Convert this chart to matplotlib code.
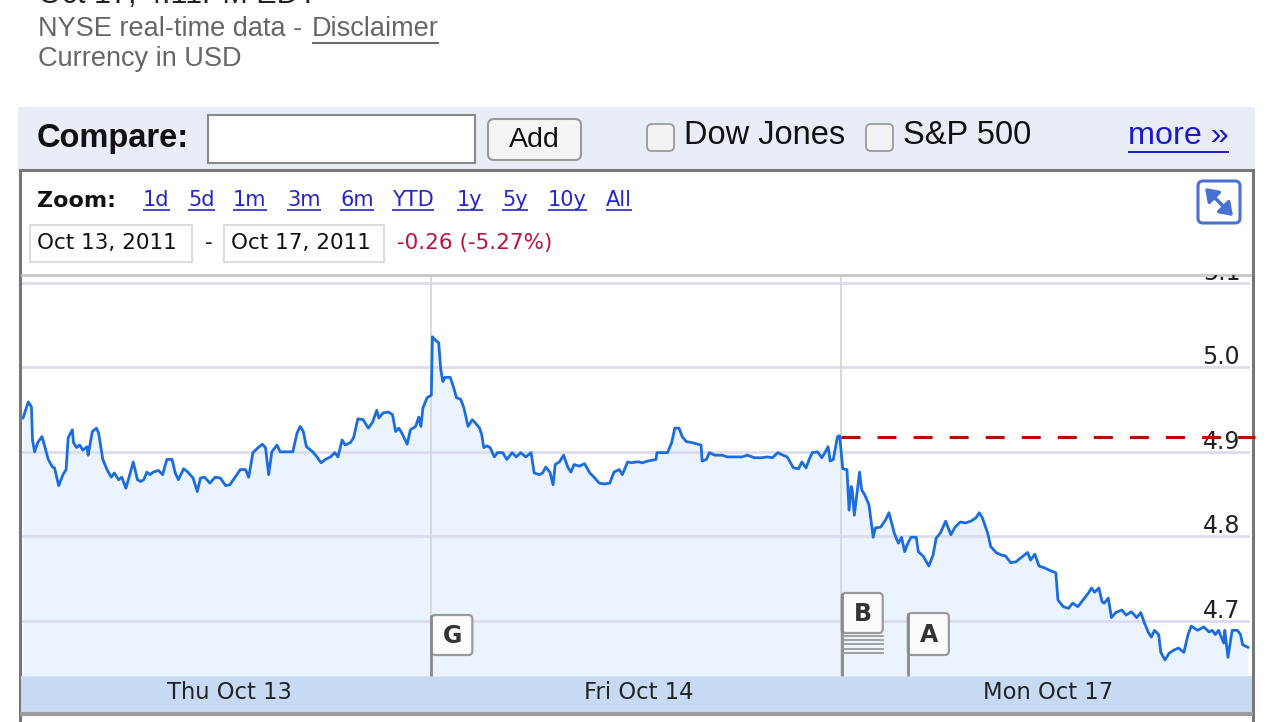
import matplotlib
matplotlib.use('Agg')
import numpy as np
import matplotlib.pyplot as plt
from matplotlib.patches import Rectangle, FancyBboxPatch, FancyArrowPatch
from matplotlib.transforms import blended_transform_factory

# minutes after the open for each session, and the price
thu_min = [1, 6, 9, 10, 12, 15, 19, 22, 25, 29, 31, 35, 39, 42, 44, 48, 49, 52, 55, 58,
           62, 63, 67, 71, 73, 77, 81, 85, 88, 92, 95, 99, 102, 106, 110, 113, 116, 119, 122, 125,
           130, 134, 138, 143, 146, 149, 154, 158, 163, 167, 170, 174, 179, 184, 189, 194, 198, 203, 208, 213,
           216, 220, 225, 229, 232, 235, 238, 243, 246, 253, 258, 262, 265, 268, 271, 277, 281, 285, 289, 294,
           298, 301, 305, 308, 313, 316, 320, 325, 330, 334, 338, 340, 344, 349, 353, 356, 359, 362, 367, 370,
           375, 378, 380, 382, 386, 390]
thu_px = [4.940, 4.959, 4.953, 4.914, 4.900, 4.911, 4.918, 4.905, 4.891, 4.882,
          4.881, 4.860, 4.873, 4.879, 4.917, 4.926, 4.911, 4.905, 4.908, 4.902,
          4.906, 4.896, 4.924, 4.928, 4.922, 4.891, 4.879, 4.870, 4.875, 4.867,
          4.870, 4.857, 4.870, 4.888, 4.867, 4.865, 4.867, 4.876, 4.873, 4.876,
          4.878, 4.873, 4.891, 4.891, 4.875, 4.867, 4.880, 4.876, 4.869, 4.853,
          4.869, 4.870, 4.863, 4.870, 4.869, 4.860, 4.861, 4.870, 4.879, 4.879,
          4.870, 4.899, 4.905, 4.909, 4.905, 4.873, 4.900, 4.908, 4.900, 4.900,
          4.900, 4.922, 4.930, 4.924, 4.906, 4.900, 4.894, 4.887, 4.891, 4.894,
          4.899, 4.894, 4.914, 4.908, 4.911, 4.917, 4.939, 4.938, 4.928, 4.935,
          4.949, 4.940, 4.946, 4.947, 4.944, 4.924, 4.928, 4.922, 4.909, 4.926,
          4.930, 4.941, 4.930, 4.952, 4.964, 4.967]

fri_min = [1, 4, 7, 9, 11, 13, 18, 21, 24, 28, 31, 33, 35, 39, 42, 46, 48, 50, 53, 56,
           60, 63, 68, 72, 77, 81, 85, 90, 95, 98, 103, 106, 109, 113, 116, 118, 122, 126, 130, 133,
           136, 141, 146, 151, 155, 160, 165, 170, 174, 179, 182, 187, 191, 195, 198, 201, 206, 214, 215, 225,
           229, 232, 236, 239, 243, 248, 257, 258, 262, 265, 270, 277, 282, 289, 296, 301, 308, 315, 320, 325,
           330, 335, 339, 345, 350, 353, 357, 360, 363, 368, 372, 375, 378, 380, 383, 387, 389]
fri_px = [5.036, 5.032, 5.029, 4.997, 4.983, 4.988, 4.988, 4.977, 4.964, 4.962,
          4.952, 4.941, 4.930, 4.938, 4.934, 4.928, 4.920, 4.905, 4.907, 4.905,
          4.894, 4.899, 4.899, 4.891, 4.899, 4.894, 4.899, 4.894, 4.899, 4.875,
          4.873, 4.875, 4.882, 4.876, 4.861, 4.885, 4.888, 4.896, 4.882, 4.876,
          4.885, 4.883, 4.886, 4.875, 4.870, 4.863, 4.862, 4.863, 4.876, 4.879,
          4.873, 4.888, 4.887, 4.888, 4.888, 4.887, 4.889, 4.891, 4.899, 4.899,
          4.911, 4.928, 4.928, 4.918, 4.912, 4.911, 4.908, 4.889, 4.891, 4.899,
          4.896, 4.896, 4.894, 4.894, 4.894, 4.896, 4.893, 4.893, 4.894, 4.893,
          4.899, 4.896, 4.894, 4.881, 4.880, 4.888, 4.881, 4.891, 4.899, 4.900,
          4.893, 4.899, 4.906, 4.889, 4.891, 4.918, 4.919]

mon_min = [2, 6, 8, 10, 11, 13, 16, 18, 20, 23, 27, 31, 33, 38, 43, 46, 49, 51, 55, 58,
           61, 64, 67, 72, 74, 79, 84, 88, 91, 95, 100, 105, 109, 114, 119, 124, 129, 132, 135, 140,
           143, 148, 153, 157, 162, 167, 172, 178, 181, 185, 189, 194, 199, 205, 207, 212, 217, 221, 226, 231,
           236, 239, 242, 246, 249, 251, 255, 258, 262, 268, 272, 277, 282, 286, 289, 293, 296, 299, 303, 305,
           309, 313, 318, 322, 327, 331, 334, 340, 346, 351, 354, 357, 360, 365, 366, 369, 373, 378, 381, 383,
           388]
mon_px = [4.880, 4.879, 4.831, 4.859, 4.855, 4.825, 4.855, 4.876, 4.855, 4.849,
          4.837, 4.799, 4.810, 4.811, 4.820, 4.828, 4.814, 4.804, 4.792, 4.799,
          4.782, 4.792, 4.799, 4.799, 4.782, 4.776, 4.765, 4.778, 4.798, 4.804,
          4.818, 4.802, 4.811, 4.817, 4.816, 4.818, 4.822, 4.828, 4.822, 4.804,
          4.788, 4.781, 4.778, 4.777, 4.769, 4.770, 4.775, 4.781, 4.772, 4.779,
          4.765, 4.763, 4.760, 4.757, 4.725, 4.717, 4.715, 4.721, 4.717, 4.725,
          4.733, 4.739, 4.734, 4.739, 4.723, 4.721, 4.727, 4.704, 4.710, 4.713,
          4.707, 4.711, 4.704, 4.710, 4.699, 4.687, 4.681, 4.689, 4.684, 4.663,
          4.654, 4.662, 4.666, 4.668, 4.663, 4.684, 4.694, 4.689, 4.693, 4.687,
          4.689, 4.684, 4.689, 4.674, 4.689, 4.657, 4.689, 4.689, 4.684, 4.672,
          4.669]

session_len = 390
day_labels = ['Thu Oct 13', 'Fri Oct 14', 'Mon Oct 17']
prev_close = 4.918
y_ticks = [4.7, 4.8, 4.9, 5.0, 5.1]
y_tick_labels = ['4.7', '4.8', '4.9', '5.0', '5.1']
flag_letters = ['G', 'B', 'A']
flag_times = [390, 781, 844]
zoom_links = ['1d', '5d', '1m', '3m', '6m', 'YTD', '1y', '5y', '10y', 'All']
start_date = 'Oct 13, 2011'
end_date = 'Oct 17, 2011'
change_text = '-0.26 (-5.27%)'

W, H = 1280, 722
fig = plt.figure(figsize=(W / 100, H / 100), dpi=100)
fig.patch.set_facecolor('white')

# pixel-space layer behind the chart
bg = fig.add_axes([0, 0, 1, 1], zorder=0)
bg.set_xlim(0, W)
bg.set_ylim(H, 0)
bg.axis('off')

# main plot
ax = fig.add_axes([22 / W, (H - 676) / H, 1228 / W, 401 / H], zorder=1)
ax.patch.set_alpha(0)

# pixel-space layer on top
fg = fig.add_axes([0, 0, 1, 1], zorder=2)
fg.set_xlim(0, W)
fg.set_ylim(H, 0)
fg.axis('off')

SANS = 'Liberation Sans'
VERD = 'DejaVu Sans'
LINK = '#2326c8'

# header text (the top line is cut off by the page edge, as in the screenshot)
bg.text(38, 3, 'Oct 17, 4:11PM EDT', fontsize=22, family=SANS, color='#222222', va='baseline')
t_disc = bg.text(312, 29, 'Disclaimer', fontsize=19.5, family=SANS, color='#666666', va='center')
bg.text(38, 29, 'NYSE real-time data - ', fontsize=19.5, family=SANS, color='#666666', va='center')
bg.text(38, 59, 'Currency in USD', fontsize=19.5, family=SANS, color='#666666', va='center')

# compare bar
bg.add_patch(Rectangle((18, 107), 1237, 63, fc='#e8edf8', ec='none'))
bg.text(37, 138, 'Compare:', fontsize=23.5, family=SANS, weight='bold', color='#111111', va='center')
bg.add_patch(Rectangle((208, 115), 267, 48, fc='white', ec='#8a8a8a', lw=1.5))
bg.add_patch(FancyBboxPatch((488, 119), 93, 41, boxstyle='round,pad=0,rounding_size=6',
                            fc='#f5f5f5', ec='#9a9a9a', lw=1.5))
bg.text(534, 140, 'Add', fontsize=20.5, family=SANS, color='#111111', ha='center', va='center')
for bx, label in [(647, 'Dow Jones'), (866, 'S&P 500')]:
    bg.add_patch(FancyBboxPatch((bx, 124), 27, 27, boxstyle='round,pad=0,rounding_size=5',
                                fc='#f3f3f3', ec='#9a9a9a', lw=1.3))
    bg.text(bx + 37, 136, label, fontsize=23.5, family=SANS, color='#111111', va='center')
t_more = bg.text(1128, 136, 'more »', fontsize=23.3, family=SANS, color='#1a1acc', va='center')

# chart frame
bg.add_patch(Rectangle((20, 170), 1233, 600, fc='white', ec='#777777', lw=2.2))
bg.text(37, 201, 'Zoom:', fontsize=16, family=VERD, weight='bold', color='#111111', va='center')
link_x = [143, 188, 233, 287, 340, 392, 457, 502, 548, 606]
link_texts = []
for lx, lab in zip(link_x, zoom_links):
    link_texts.append(bg.text(lx, 200, lab, fontsize=15, family=VERD, color=LINK, va='center'))

bg.add_patch(Rectangle((30, 225), 162, 37, fc='white', ec='#dddddd', lw=1.5))
bg.text(37, 243, start_date, fontsize=15.5, family=VERD, color='#111111', va='center')
bg.text(205, 243, '-', fontsize=15.5, family=VERD, color='#111111', va='center')
bg.add_patch(Rectangle((224, 225), 160, 37, fc='white', ec='#dddddd', lw=1.5))
bg.text(231, 243, end_date, fontsize=15.5, family=VERD, color='#111111', va='center')
bg.text(397, 243, change_text, fontsize=15.5, family=VERD, color='#c0123e', va='center')

# expand icon
bg.add_patch(FancyBboxPatch((1198, 181), 42, 42, boxstyle='round,pad=0,rounding_size=5',
                            fc='white', ec='#4b70d4', lw=2.2))
bg.add_patch(FancyArrowPatch((1205, 188), (1233, 216),
                             arrowstyle='<|-|>,head_length=0.4,head_width=0.28',
                             mutation_scale=18, shrinkA=0, shrinkB=0,
                             color='#4b70d4', lw=2.6))

# x-axis band
bg.add_patch(Rectangle((21, 676), 1231, 36, fc='#c6dbf3', ec='none'))
bg.plot([20, 1253], [713.5, 713.5], color='#9c9c9c', lw=3, solid_capstyle='butt')

# price series
x = np.concatenate([np.array(thu_min), np.array(fri_min) + session_len,
                    np.array(mon_min) + 2 * session_len])
y = np.concatenate([thu_px, fri_px, mon_px])

ymin, ymax = 4.635, 5.109
ax.set_xlim(0, 3 * session_len)
ax.set_ylim(ymin, ymax)
ax.fill_between(x, y, ymin, color='#ebf4fe', lw=0, zorder=1)
for yt in y_ticks:
    ax.axhline(yt, color='#dcdcf0', lw=2, zorder=2)
for d in (1, 2):
    ax.axvline(d * session_len, color='#d3d9d3', lw=1.3, zorder=2)
ax.plot(x, y, color='#1b6ddf', lw=2, zorder=3)
ax.plot([2 * session_len, 3 * session_len + 5], [prev_close, prev_close], color='#c40000',
        lw=2.2, dashes=(6.2, 5.6), zorder=5, clip_on=False)

ax.set_xticks([])
ax.set_yticks([])
for side in ('left', 'right', 'bottom'):
    ax.spines[side].set_visible(False)
ax.spines['top'].set_color('#c8c8c8')
ax.spines['top'].set_linewidth(2)

ytrans = blended_transform_factory(ax.transAxes, ax.transData)
for yt, lab in zip(y_ticks, y_tick_labels):
    ax.text(0.992, yt + 0.0035, lab, transform=ytrans, ha='right', va='baseline',
            fontsize=17, family=VERD, color='#222222', clip_on=True, zorder=4)

xtrans = blended_transform_factory(ax.transData, ax.transAxes)
for i, lab in enumerate(day_labels):
    ax.text((i + 0.5) * session_len + 3, -0.04, lab, transform=xtrans, ha='center', va='center',
            fontsize=16.3, family=VERD, color='#222222', clip_on=False)

# news flags
def flag_px(t):
    return ax.transData.transform((t, ymin))[0]

flag_boxes = {'G': (615, 655, 0), 'B': (593, 633, 5), 'A': (613, 655, 0)}
for letter, t in zip(flag_letters, flag_times):
    fx = flag_px(t)
    top, bot, stack = flag_boxes[letter]
    fg.plot([fx, fx], [top, 676], color='#8a8a8a', lw=2, solid_capstyle='butt')
    for k in range(stack):
        yy = bot + 3 + k * 4.2
        fg.plot([fx, fx + 41], [yy, yy], color='#9a9a9a', lw=1.3)
    fg.add_patch(FancyBboxPatch((fx, top), 41, bot - top, boxstyle='round,pad=0,rounding_size=4',
                                fc='#fbfbfb', ec='#9a9a9a', lw=1.6))
    fg.text(fx + 21, (top + bot) / 2 + 1, letter, ha='center', va='center', fontsize=17,
            family=VERD, weight='bold', color='#333333')

# underlines for links
renderer = fig.canvas.get_renderer()
def underline(t, color, lw=1.4, off=2):
    bb = t.get_window_extent(renderer)
    yy = H - bb.y0 + off
    bg.plot([bb.x0, bb.x1], [yy, yy], color=color, lw=lw, solid_capstyle='butt')

underline(t_disc, '#666666', off=1)
underline(t_more, '#1a1acc', off=1)
for t in link_texts:
    underline(t, LINK, lw=1.2, off=0)

fig.savefig('out.png', dpi=100)
